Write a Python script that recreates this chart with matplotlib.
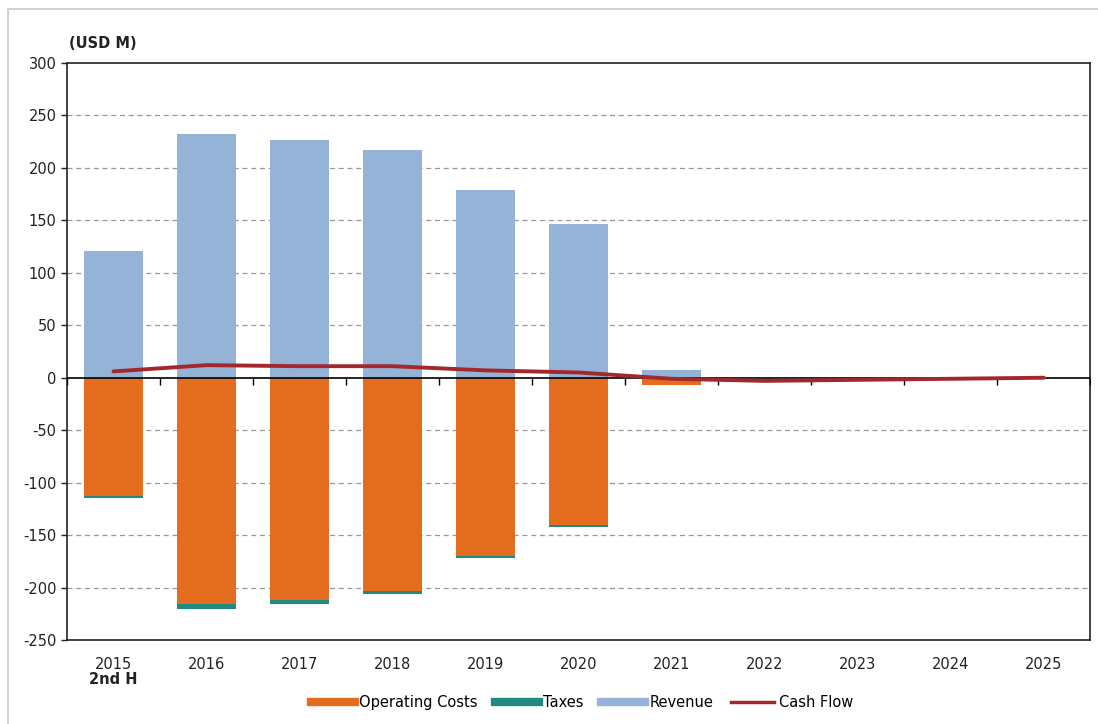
import matplotlib.pyplot as plt
from matplotlib.lines import Line2D
from matplotlib.patches import Rectangle
import numpy as np

plt.rcParams['axes.unicode_minus'] = False
plt.rcParams['font.family'] = ['DejaVu Sans']

# data (USD M)
years = ['2015', '2016', '2017', '2018', '2019', '2020', '2021', '2022', '2023', '2024', '2025']
revenue = [121, 232, 227, 217, 179, 147, 7, 0, 0, 0, 0]
operating_costs = [-113, -216, -212, -203, -170, -140, -7, 0, 0, 0, 0]
taxes = [-2, -4, -4, -3, -2, -2, 0, 0, 0, 0, 0]
cash_flow = [6, 12, 11, 11, 7, 5, -1, -3, -2, -1, 0]

c_ops = '#E36C1E'
c_tax = '#1E8A80'
c_rev = '#95B3D7'
c_cf = '#A3282B'

fig = plt.figure(figsize=(10.98, 7.24), dpi=100)
ax = fig.add_axes([0.061, 0.116, 0.932, 0.797])

# light gray frame around the chart area
fig.patches.append(Rectangle((0.007, -0.01), 1.0, 0.997, transform=fig.transFigure,
                             fill=False, edgecolor='#d2d2d2', linewidth=1.5))

x = np.arange(len(years))
w = 0.63
ax.bar(x, revenue, w, color=c_rev, zorder=2)
ax.bar(x, operating_costs, w, color=c_ops, zorder=2)
ax.bar(x, taxes, w, bottom=operating_costs, color=c_tax, zorder=2)
ax.plot(x, cash_flow, color=c_cf, linewidth=2.8, zorder=4, solid_capstyle='round')

# zero axis with category tick marks
ax.axhline(0, color='black', linewidth=1.2, zorder=3)
ax.plot(np.arange(len(years) + 1) - 0.5, np.zeros(len(years) + 1), linestyle='none',
        marker=3, markersize=5, color='black', zorder=3)

ax.set_xlim(-0.5, len(years) - 0.5)
ax.set_ylim(-250, 300)
ax.set_yticks(range(-250, 301, 50))
ax.set_xticks(x)
ax.set_xticklabels(years)
ax.tick_params(axis='x', length=0, pad=12, labelsize=10.5, colors='#222222')
ax.tick_params(axis='y', length=4, width=1, labelsize=10.5, colors='#222222')

for v in range(-200, 300, 50):
    if v != 0:
        ax.axhline(v, color='#999999', linewidth=0.9, linestyle=(0, (4, 3)), zorder=1)

for s in ax.spines.values():
    s.set_color('#222222')
    s.set_linewidth(1.2)

ax.text(0.002, 1.02, '(USD M)', transform=ax.transAxes, fontsize=10.5, fontweight='bold',
        ha='left', va='bottom', color='#222222')
ax.text(0, -0.055, '2nd H', transform=ax.get_xaxis_transform(), fontsize=10.5,
        fontweight='bold', ha='center', va='top', color='#222222')

handles = [Line2D([], [], color=c_ops, linewidth=6),
           Line2D([], [], color=c_tax, linewidth=6),
           Line2D([], [], color=c_rev, linewidth=6),
           Line2D([], [], color=c_cf, linewidth=2.5)]
labels = ['Operating Costs', 'Taxes', 'Revenue', 'Cash Flow']
fig.legend(handles, labels, loc='center', bbox_to_anchor=(0.53, 0.03), ncol=4,
           frameon=False, fontsize=10.5, handlelength=3.0, handletextpad=0.3,
           columnspacing=1.2)

fig.savefig('out.png', dpi=100)
